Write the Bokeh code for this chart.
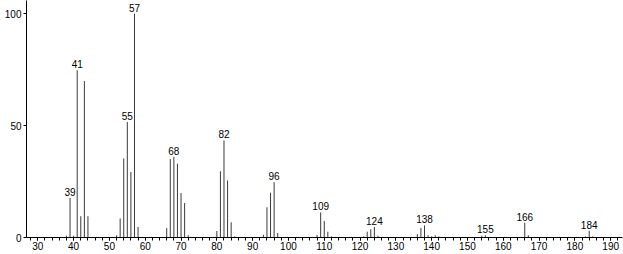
from bokeh.plotting import figure
from bokeh.models import ColumnDataSource, SingleIntervalTicker, FixedTicker, Range1d
from bokeh.core.properties import value
from bokeh.embed import file_html
from bokeh.resources import INLINE

mz = [38, 39, 40, 41, 42, 43, 44, 52, 53, 54, 55, 56, 57, 58,
      66, 67, 68, 69, 70, 71, 72, 80, 81, 82, 83, 84, 85,
      93, 94, 95, 96, 97, 108, 109, 110, 111, 112,
      121, 122, 123, 124, 125, 136, 137, 138, 139, 140, 141, 142,
      154, 155, 166, 167, 183, 184, 185]
intensity = [0.8, 17.7, 0.8, 74.7, 9.5, 69.9, 9.5, 1.0, 8.5, 35.3, 51.6, 29.3, 100.0, 4.7,
             4.2, 35.1, 36.0, 33.0, 19.9, 15.4, 1.0, 2.9, 29.6, 43.4, 25.5, 6.8, 0.5,
             1.2, 13.5, 20.0, 24.7, 2.0, 1.2, 11.2, 7.4, 2.6, 0.5,
             0.5, 2.6, 3.7, 4.7, 0.8, 1.5, 4.3, 5.4, 1.0, 0.5, 1.0, 0.5,
             0.8, 1.0, 6.6, 1.0, 0.5, 3.0, 0.5]
labeled = [39, 41, 55, 57, 68, 82, 96, 109, 124, 138, 155, 166, 184]

lab_y = [intensity[mz.index(m)] for m in labeled]
lab_txt = [str(m) for m in labeled]

src = ColumnDataSource(dict(x=mz, y0=[0] * len(mz), y=intensity))
lsrc = ColumnDataSource(dict(x=labeled, y=lab_y, t=lab_txt))

p = figure(width=623, height=254, output_backend="svg", toolbar_location=None,
           x_range=Range1d(26.84, 193.3), y_range=Range1d(0, 105.9),
           min_border_left=26, min_border_right=1, min_border_top=0, min_border_bottom=17)
p.outline_line_color = None
p.xgrid.visible = False
p.ygrid.visible = False
p.background_fill_color = "white"
p.border_fill_color = "white"

p.segment(x0="x", y0="y0", x1="x", y1="y", source=src, line_color="#3a3a3a", line_width=1)
p.text(x="x", y="y", text="t", source=lsrc, text_align="center", text_baseline="bottom",
       y_offset=-2, text_font=value("Liberation Sans"), text_font_size="10px", text_color="black")

xa = p.xaxis[0]
xa.ticker = SingleIntervalTicker(interval=10, num_minor_ticks=5)
xa.axis_line_color = "black"
xa.major_tick_in = 0
xa.major_tick_out = 3
xa.minor_tick_in = 0
xa.minor_tick_out = 3
xa.major_label_standoff = 1
xa.major_label_text_font = "Liberation Sans"
xa.major_label_text_font_size = "10px"
xa.major_label_text_color = "black"

ya = p.yaxis[0]
ya.ticker = FixedTicker(ticks=[0, 50, 100])
ya.minor_tick_line_color = None
ya.major_tick_in = 0
ya.major_tick_out = 3
ya.major_label_standoff = 2
ya.major_label_text_font = "Liberation Sans"
ya.major_label_text_font_size = "10px"
ya.major_label_text_color = "black"

open("out.html", "w").write(file_html(p, INLINE))
